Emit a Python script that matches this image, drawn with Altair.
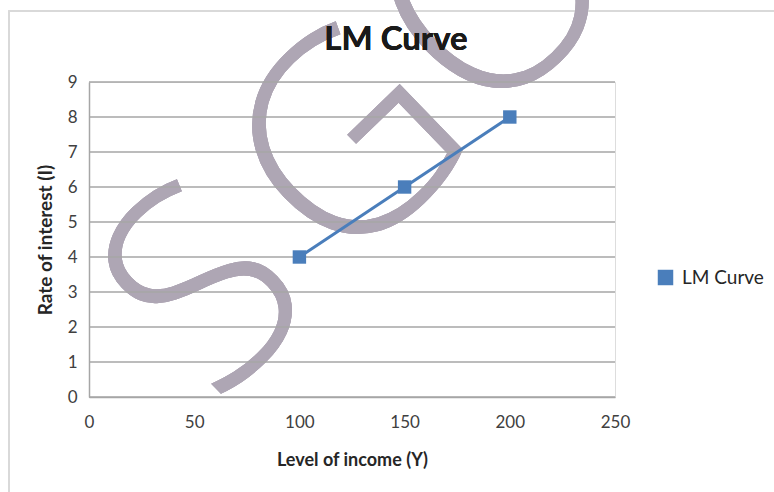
import altair as alt
import pandas as pd

income = [100, 150, 200]
interest = [4, 6, 8]
series = ["LM Curve", "LM Curve", "LM Curve"]
x_ticks = [0, 50, 100, 150, 200, 250]
y_ticks = [0, 1, 2, 3, 4, 5, 6, 7, 8, 9]

df = pd.DataFrame({"income": income, "interest": interest, "series": series})
grid_df = pd.DataFrame({"interest": y_ticks})

FONT = "Lato"
BLUE = "#4a7ebb"
GRID = "#a6a6a6"

x_enc = alt.X(
    "income:Q",
    scale=alt.Scale(domain=[0, 250], nice=False),
    axis=alt.Axis(
        values=x_ticks,
        title="Level of income (Y)",
        grid=False,
        ticks=False,
        labelFlush=False,
        domainColor=GRID,
        domainWidth=1.5,
        labelFont=FONT,
        labelFontSize=17,
        labelColor="#404040",
        labelPadding=17,
        titleFont=FONT,
        titleFontSize=18,
        titleFontWeight="bold",
        titleColor="#262626",
        titlePadding=21,
    ),
)
y_axis = alt.Axis(
    values=y_ticks,
    title="Rate of interest (I)",
    grid=False,
    ticks=False,
    labelFlush=False,
    domainColor=GRID,
    domainWidth=1.5,
    labelFont=FONT,
    labelFontSize=17,
    labelColor="#404040",
    labelPadding=12,
    titleFont=FONT,
    titleFontSize=19,
    titleFontWeight="bold",
    titleColor="#262626",
    titlePadding=12,
)
y_scale = alt.Scale(domain=[0, 9], nice=False)
y_enc = alt.Y("interest:Q", scale=y_scale, axis=y_axis)

color_enc = alt.Color(
    "series:N",
    scale=alt.Scale(range=[BLUE]),
    legend=alt.Legend(
        title=None,
        orient="none",
        legendX=567,
        legendY=186,
        symbolType="square",
        symbolSize=240,
        symbolStrokeWidth=0,
        labelOffset=7,
        labelFont=FONT,
        labelFontSize=19,
        labelColor="#262626",
    ),
)

gridlines = alt.Chart(grid_df).mark_rule(color=GRID, strokeWidth=1.5).encode(
    y=y_enc,
    x=alt.value(0),
    x2=alt.value(526),
)

line = alt.Chart(df).mark_line(strokeWidth=3, color=BLUE).encode(x=x_enc, y=y_enc)
points = alt.Chart(df).mark_point(
    shape="square", filled=True, size=180, opacity=1
).encode(x=x_enc, y=y_enc, color=color_enc)

frame = alt.Chart(df).mark_rect(
    fill=None, stroke="#d9d9d9", strokeWidth=1.5
).encode(
    x=alt.value(-80), x2=alt.value(720), y=alt.value(-71), y2=alt.value(440)
)

title = alt.Chart(df).mark_text(
    text="LM Curve",
    font=FONT,
    fontSize=33,
    fontWeight="bold",
    color="#1a1a1a",
    align="center",
    baseline="middle",
).encode(x=alt.value(307), y=alt.value(-42))


def wm(letter, px, py):
    return alt.Chart(df).mark_text(
        text=letter,
        font="Open Sans",
        fontSize=278,
        fontWeight=300,
        color="#aea6b4",
        angle=316,
        align="center",
        baseline="middle",
    ).encode(x=alt.value(px), y=alt.value(py))


watermark = [wm("S", 122, 214), wm("G", 266, 69), wm("O", 412, -82)]

chart = (
    alt.layer(frame, *watermark, title, gridlines, line, points)
    .properties(
        width=526,
        height=315,
        padding={"left": 89, "top": 82, "right": 159, "bottom": 95},
        autosize=alt.AutoSizeParams(type="none"),
    )
    .configure_view(stroke=None)
    .configure(background="white")
)

chart.save("out.html", embed_options={"renderer": "svg", "actions": False})
